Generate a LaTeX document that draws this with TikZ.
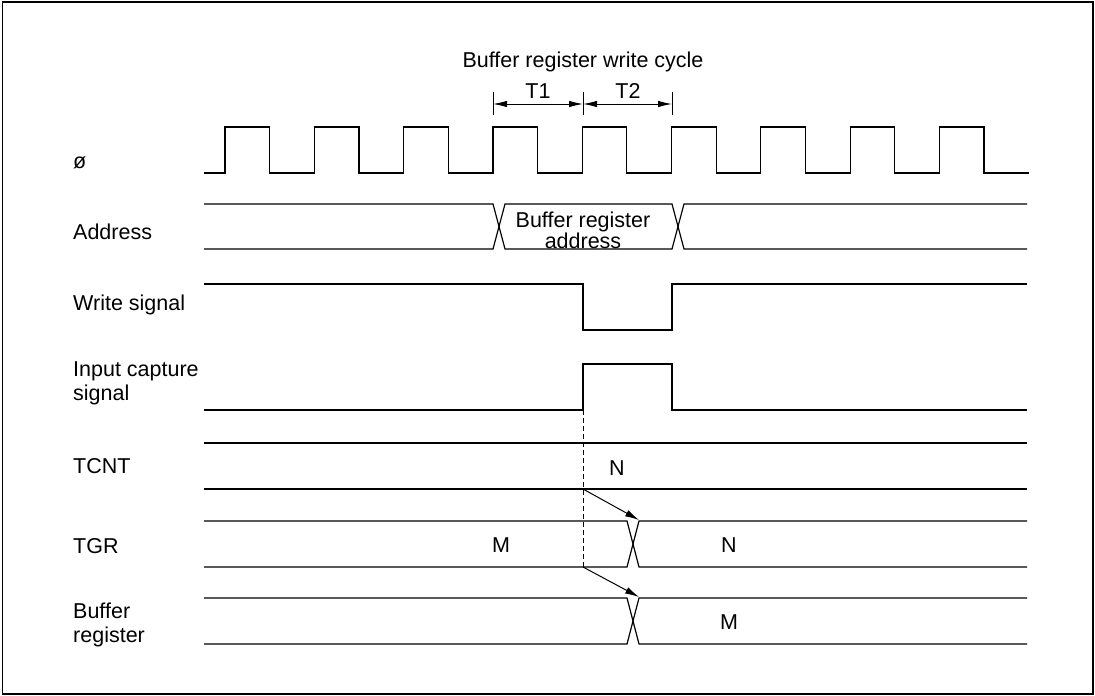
\documentclass[tikz,border=0pt]{standalone}
\usepackage{fontspec}
\setmainfont{Liberation Sans}
\usetikzlibrary{arrows.meta}

\begin{document}
\begin{tikzpicture}[x=1pt, y=-1pt,
        every node/.style={font=\fontsize{21.5}{21}\selectfont, inner sep=0pt},
        beschriftung/.style={anchor=west, align=left, font=\fontsize{21.5}{24}\selectfont},
        wert/.style={anchor=center},
        welle/.style={draw=black, line width=1.2pt, line join=miter},
        strich/.style={draw=black, line width=1pt, dash pattern=on 5pt off 3pt},
        mass/.style={draw=black, line width=1pt},
        pfeil/.style={draw=black, line width=1pt, -{Latex[length=14pt,width=7pt]}},
        masspfeil/.style={mass, {Latex[length=14pt,width=6.5pt]}-{Latex[length=14pt,width=6.5pt]}}
    ]
        \useasboundingbox (0,0) rectangle (1095,696);
        \draw[line width=1.8pt] (2.5,2) rectangle (1093,694);

        \node[beschriftung] (phi)  at (73,163) {ø};
        \node[beschriftung] (adr)  at (73,232) {Address};
        \node[beschriftung] (wr)   at (73,305) {Write signal};
        \node[beschriftung] (ic)   at (73,383) {Input capture\\signal};
        \node[beschriftung] (tcnt) at (73,466) {TCNT};
        \node[beschriftung] (tgr)  at (73,546) {TGR};
        \node[beschriftung] (buf)  at (73,625) {Buffer\\register};

        \node (zyk) at (583,62) {Buffer register write cycle};
        \node (ta)  at (538,91) {T1};
        \node (tb)  at (628,91) {T2};
        \coordinate (m0) at (493,104);
        \coordinate (m1) at (583,104);
        \coordinate (m2) at (672,104);
        \foreach \m in {m0,m1,m2} \draw[mass] ([yshift=-11pt]\m) -- ([yshift=12pt]\m);
        \draw[masspfeil] (m0) -- (m1);
        \draw[masspfeil] (m1) -- (m2);

        \draw[welle] (204,173) -- (225,173)
            \foreach \k in {0,...,8} { -- ++(0,-46) -- ++(44.65,0) -- ++(0,46) -- ++(44.65,0) };

        \draw[welle] (204,204) -- (493,204) -- (505,249) -- (672,249) -- (684,204) -- (1027,204);
        \draw[welle] (204,249) -- (493,249) -- (505,204) -- (672,204) -- (684,249) -- (1027,249);
        \node[align=center] (badr) at (583,230) {Buffer register\\address};

        \draw[welle] (204,284) -- (583,284) -- (583,330) -- (672,330) -- (672,284) -- (1027,284);
        \draw[welle] (204,410) -- (583,410) -- (583,364) -- (672,364) -- (672,410) -- (1027,410);

        \draw[welle] (204,443) -- (1027,443);
        \draw[welle] (204,489) -- (1027,489);
        \node[wert] (n1) at (617,468) {N};

        \draw[welle] (204,521) -- (627,521) -- (639,567) -- (1027,567);
        \draw[welle] (204,567) -- (627,567) -- (639,521) -- (1027,521);
        \node[wert] (m3) at (501,545) {M};
        \node[wert] (n2) at (729,545) {N};

        \draw[welle] (204,598) -- (627,598) -- (639,644) -- (1027,644);
        \draw[welle] (204,644) -- (627,644) -- (639,598) -- (1027,598);
        \node[wert] (m4) at (729,622) {M};

        \draw[strich] (583,410) -- (583,567);
        \coordinate (pa) at (583,489);
        \coordinate (pb) at (639,520);
        \coordinate (pc) at (583,567);
        \coordinate (pd) at (639,597);
        \draw[pfeil] (pa) -- (pb);
        \draw[pfeil] (pc) -- (pd);
    \end{tikzpicture}
\end{document}
